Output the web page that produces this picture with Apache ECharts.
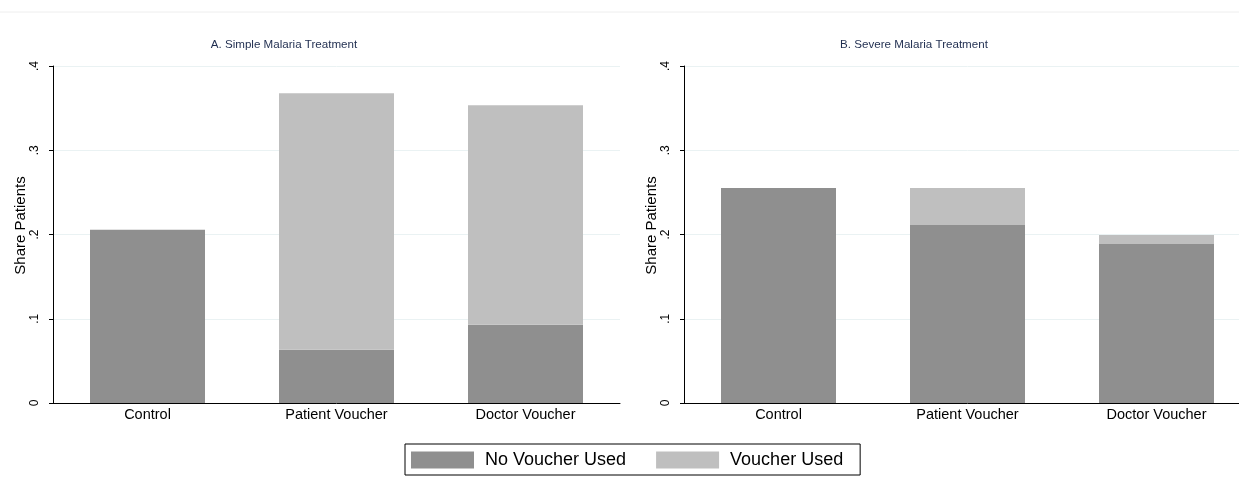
<!DOCTYPE html>
<html>
<head>
<meta charset="utf-8">
<script src="https://cdn.jsdelivr.net/npm/echarts@6/dist/echarts.min.js"></script>
<style>
  html, body { margin: 0; padding: 0; background: #fff; overflow: hidden; }
  /* the right panel runs past the window edge in the original, so the canvas is wider */
  #chart { width: 1260px; height: 478px; }
</style>
</head>
<body>
<div id="chart"></div>
<script>
// data
const categories = ['Control', 'Patient Voucher', 'Doctor Voucher'];
const panelTitles = ['A. Simple Malaria Treatment', 'B. Severe Malaria Treatment'];
const seriesNames = ['No Voucher Used', 'Voucher Used'];
const yTickLabels = ['0', '.1', '.2', '.3', '.4'];

// A. simple malaria
const simpleNoVoucher = [0.2055, 0.0632, 0.0928];
const simpleVoucher = [0, 0.3045, 0.2607];
// B. severe malaria
const severeNoVoucher = [0.2552, 0.2114, 0.1888];
const severeVoucher = [0, 0.0438, 0.0107];

const FONT = 'Liberation Sans, Arial, sans-serif';
const DARK = '#8f8f8f';
const LIGHT = '#bfbfbf';

let myChart = echarts.init(document.getElementById('chart'));

function yAxis(idx) {
    return {
        type: 'value', gridIndex: idx, min: 0, max: 0.4, interval: 0.1,
        name: 'Share Patients', nameLocation: 'middle', nameGap: 24,
        nameTextStyle: {fontFamily: FONT, fontSize: 15, color: '#000', padding: [0, 0, 0, 18]},
        axisLine: {show: true, lineStyle: {color: '#000', width: 1}},
        axisTick: {show: true, length: 4, lineStyle: {color: '#000'}},
        axisLabel: {
            rotate: 90, margin: 12, fontFamily: FONT, fontSize: 12, color: '#000',
            formatter: v => yTickLabels[Math.round(v * 10)]
        },
        splitLine: {show: true, lineStyle: {color: '#eaf2f3', width: 1}}
    };
}

function xAxis(idx) {
    return {
        type: 'category', gridIndex: idx, data: categories,
        axisLine: {lineStyle: {color: '#000', width: 1}},
        axisTick: {show: false},
        axisLabel: {fontFamily: FONT, fontSize: 14.5, color: '#000', margin: 4}
    };
}

function bar(name, data, idx, color) {
    return {
        name: name, type: 'bar', stack: 'p' + idx, data: data,
        xAxisIndex: idx, yAxisIndex: idx, barWidth: 115,
        itemStyle: {color: color}, emphasis: {disabled: true}
    };
}

myChart.setOption({
    animation: false,
    title: [
        {text: panelTitles[0], left: 279, top: 34, textAlign: 'center',
         textStyle: {fontFamily: FONT, fontSize: 11.6, fontWeight: 'normal', color: '#1f2d4f'}},
        {text: panelTitles[1], left: 909, top: 34, textAlign: 'center',
         textStyle: {fontFamily: FONT, fontSize: 11.6, fontWeight: 'normal', color: '#1f2d4f'}}
    ],
    grid: [
        {left: 53, top: 66, width: 567, height: 337},
        {left: 684, top: 66, width: 567, height: 337}
    ],
    xAxis: [xAxis(0), xAxis(1)],
    yAxis: [yAxis(0), yAxis(1)],
    legend: {
        data: seriesNames, left: 405, top: 444,
        icon: 'rect', itemWidth: 63, itemHeight: 17, itemGap: 30,
        padding: [7, 17, 6, 6],
        borderColor: '#000', borderWidth: 1,
        selectedMode: false,
        textStyle: {fontFamily: FONT, fontSize: 18, color: '#000', padding: [0, 0, 0, 6]}
    },
    graphic: [{
        type: 'line', shape: {x1: 0, y1: 12, x2: 1260, y2: 12},
        style: {stroke: '#eeeeee', lineWidth: 1}
    }],
    series: [
        bar(seriesNames[0], simpleNoVoucher, 0, DARK),
        bar(seriesNames[1], simpleVoucher, 0, LIGHT),
        bar(seriesNames[0], severeNoVoucher, 1, DARK),
        bar(seriesNames[1], severeVoucher, 1, LIGHT)
    ]
});
</script>
</body>
</html>
